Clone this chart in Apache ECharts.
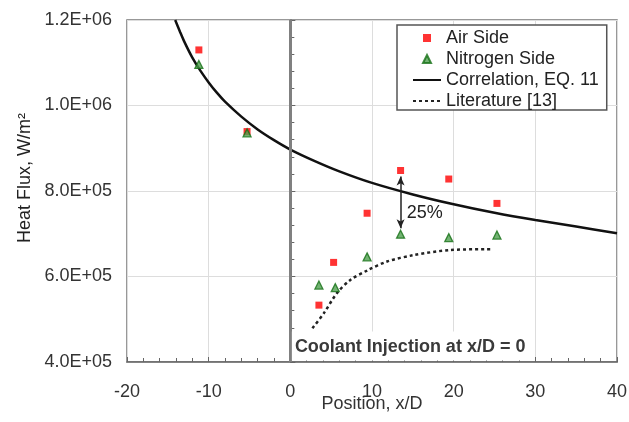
<!DOCTYPE html>
<html>
<head>
<meta charset="utf-8">
<script src="https://cdn.jsdelivr.net/npm/echarts@6/dist/echarts.min.js"></script>
<style>
  html, body { margin: 0; padding: 0; background: #fff; }
  #chart { width: 629px; height: 422px; }
</style>
</head>
<body>
<div id="chart"></div>
<script>
// Measured wall heat flux vs. axial position, with correlation and literature curves
const airX = [-11.2, -5.3, 3.5, 5.3, 9.4, 13.5, 19.4, 25.3];
const airY = [1.13e6, 9.39e5, 5.33e5, 6.33e5, 7.48e5, 8.48e5, 8.28e5, 7.71e5];

const nitrogenX = [-11.2, -5.3, 3.5, 5.5, 9.4, 13.5, 19.4, 25.3];
const nitrogenY = [1.096e6, 9.36e5, 5.80e5, 5.74e5, 6.46e5, 6.99e5, 6.91e5, 6.97e5];

const correlationX = [-14.1, -13.5, -13, -12, -11, -10, -9, -8, -6, -4, -2, 0, 3, 6, 10, 15, 20, 25, 30, 35, 40];
const correlationY = [1.200e6, 1.172e6, 1.150e6, 1.112e6, 1.081e6, 1.054e6, 1.030e6, 1.009e6,
  9.74e5, 9.44e5, 9.19e5, 8.97e5, 8.70e5, 8.46e5, 8.19e5, 7.92e5, 7.69e5, 7.49e5, 7.32e5, 7.17e5, 7.01e5];

const literatureX = [2.7, 4.1, 5.7, 7.35, 9.4, 11.85, 15.1, 19.6, 24.7];
const literatureY = [4.79e5, 5.14e5, 5.61e5, 5.92e5, 6.14e5, 6.35e5, 6.50e5, 6.62e5, 6.64e5];

// Spread between air and nitrogen data at x/D = 13.5
const spreadX = 13.5;
const spreadLow = 7.13e5;
const spreadHigh = 8.34e5;
const spreadLabel = '25%';

const xTicks = [-20, -10, 0, 10, 20, 30, 40];
const yTickValues = [4.0e5, 6.0e5, 8.0e5, 1.0e6, 1.2e6];
const yTickLabels = ['4.0E+05', '6.0E+05', '8.0E+05', '1.0E+06', '1.2E+06'];

const injectionNote = 'Coolant Injection at x/D = 0';

const zip = (xs, ys) => xs.map((x, i) => [x, ys[i]]);
const FONT = "'Liberation Sans', Arial, sans-serif";
const SQUARE = 'path://M0,0H10V10H0Z';
const TRIANGLE = 'path://M5,0L10,10H0Z';

const chart = echarts.init(document.getElementById('chart'), null, { renderer: 'canvas' });

chart.setOption({
  backgroundColor: '#fff',
  animation: false,
  grid: {
    left: 127, right: 12, top: 20, bottom: 60,
    outerBoundsMode: 'none',
    show: true, borderColor: '#777', borderWidth: 1.5, backgroundColor: 'transparent'
  },
  legend: {
    orient: 'vertical',
    left: 397, top: 25,
    padding: [4, 8, 0, 15],
    itemWidth: 28, itemHeight: 8, itemGap: 3,
    borderColor: '#555', borderWidth: 1.5,
    backgroundColor: '#fff',
    textStyle: { fontFamily: FONT, fontSize: 18, color: '#222', lineHeight: 18 },
    data: [
      { name: 'Air Side', icon: SQUARE },
      { name: 'Nitrogen Side', icon: TRIANGLE },
      { name: 'Correlation, EQ. 11', itemStyle: { color: 'transparent', borderWidth: 0 } },
      { name: 'Literature [13]', itemStyle: { color: 'transparent', borderWidth: 0 } }
    ]
  },
  xAxis: {
    type: 'value', min: xTicks[0], max: xTicks[xTicks.length - 1], interval: 10,
    name: 'Position, x/D', nameLocation: 'middle', nameGap: 33, nameMoveOverlap: false,
    nameTextStyle: { fontFamily: FONT, fontSize: 18, color: '#333' },
    axisLine: { show: true, onZero: false, lineStyle: { color: '#666', width: 1.5 } },
    axisTick: { show: true, inside: true, length: 5, lineStyle: { color: '#666' } },
    minorTick: { show: true, splitNumber: 5, length: 4, lineStyle: { color: '#666' } },
    axisLabel: { fontFamily: FONT, fontSize: 18, color: '#333', margin: 21 },
    splitLine: { show: true, lineStyle: { color: '#ddd', width: 1 } }
  },
  yAxis: {
    type: 'value', min: yTickValues[0], max: yTickValues[yTickValues.length - 1], interval: 2e5,
    name: 'Heat Flux, W/m²', nameLocation: 'middle', nameGap: 93, nameMoveOverlap: false,
    nameTextStyle: { fontFamily: FONT, fontSize: 18, color: '#222', padding: [0, 0, 0, 26] },
    axisLine: { show: true, lineStyle: { color: '#666', width: 1.5 } },
    axisTick: { show: true, inside: true, length: 5, lineStyle: { color: '#666' } },
    minorTick: { show: true, splitNumber: 5, length: 4, lineStyle: { color: '#666' } },
    axisLabel: {
      fontFamily: FONT, fontSize: 18, color: '#333', margin: 15,
      formatter: v => {
        const i = yTickValues.findIndex(t => Math.abs(t - v) < 1);
        return i >= 0 ? yTickLabels[i] : '';
      }
    },
    splitLine: { show: true, lineStyle: { color: '#ddd', width: 1 } }
  },
  series: [
    {
      name: 'Correlation, EQ. 11',
      type: 'line',
      data: zip(correlationX, correlationY),
      showSymbol: false, symbol: 'none', smooth: 0.3,
      lineStyle: { color: '#111', width: 2.5 },
      itemStyle: { color: '#111' },
      z: 4,
      markLine: {
        silent: true, symbol: 'none', animation: false,
        label: { show: false },
        lineStyle: { color: '#808080', width: 3, type: 'solid' },
        data: [{ xAxis: 0 }]
      }
    },
    {
      name: 'Literature [13]',
      type: 'line',
      data: zip(literatureX, literatureY),
      showSymbol: false, symbol: 'none', smooth: 0.3,
      lineStyle: { color: '#222', width: 2.5, type: [3, 3] },
      itemStyle: { color: '#222' },
      z: 4
    },
    {
      name: 'Air Side',
      type: 'scatter',
      data: zip(airX, airY),
      symbol: 'rect', symbolSize: 7,
      itemStyle: { color: '#ff0000' },
      z: 5
    },
    {
      name: 'Nitrogen Side',
      type: 'scatter',
      data: zip(nitrogenX, nitrogenY),
      symbol: 'triangle', symbolSize: 8,
      itemStyle: { color: '#4f9f4f', borderColor: '#157015', borderWidth: 1.3 },
      z: 5
    },
    {
      // annotations: spread arrow, its label and the injection note
      type: 'line',
      data: [],
      silent: true,
      z: 3,
      markLine: {
        silent: true, animation: false,
        symbol: ['arrow', 'arrow'], symbolSize: [6, 9],
        label: { show: false },
        lineStyle: { color: '#222', width: 1.5, type: 'solid' },
        data: [[{ coord: [spreadX, spreadLow] }, { coord: [spreadX, spreadHigh] }]]
      },
      markPoint: {
        silent: true, animation: false,
        symbol: 'rect', symbolSize: 1,
        itemStyle: { color: 'rgba(0,0,0,0)' },
        data: [
          {
            coord: [14.2, 7.48e5],
            label: {
              show: true, position: 'right', distance: 0,
              formatter: spreadLabel,
              fontFamily: FONT, fontSize: 18, color: '#222'
            }
          },
          {
            coord: [0.25, 4.70e5],
            label: {
              show: true, position: [0, 0], align: 'left', verticalAlign: 'top',
              formatter: injectionNote,
              fontFamily: FONT, fontSize: 18, fontWeight: 'bold', color: '#3a3a3a',
              lineHeight: 18,
              backgroundColor: '#fff',
              padding: [6, 8, 5, 3]
            }
          }
        ]
      }
    }
  ]
});
</script>
</body>
</html>
